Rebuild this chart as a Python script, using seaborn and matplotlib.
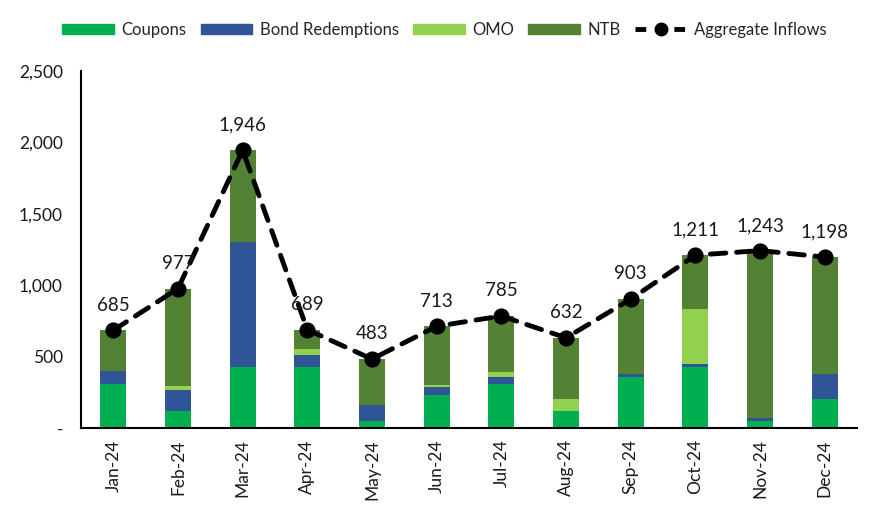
import numpy as np
import pandas as pd
import matplotlib
matplotlib.use('Agg')
import matplotlib.pyplot as plt
import seaborn as sns
from matplotlib.patches import Patch
from matplotlib.lines import Line2D
from matplotlib.ticker import FuncFormatter, FixedLocator

months = ['Jan-24', 'Feb-24', 'Mar-24', 'Apr-24', 'May-24', 'Jun-24',
          'Jul-24', 'Aug-24', 'Sep-24', 'Oct-24', 'Nov-24', 'Dec-24']
coupons = [310, 120, 427, 427, 49, 231, 308, 119, 357, 429, 51, 203]
bond_redemptions = [90, 146, 875, 84, 112, 56, 49, 0, 21, 21, 19, 177]
omo = [0, 28, 0, 42, 0, 14, 35, 84, 0, 383, 0, 0]
ntb = [285, 683, 644, 136, 322, 412, 393, 429, 525, 378, 1153, 818]
aggregate = [685, 977, 1946, 689, 483, 713, 785, 632, 903, 1211, 1243, 1198]

COLORS = {'Coupons': '#00B050',
          'Bond Redemptions': '#2F5597',
          'OMO': '#92D050',
          'NTB': '#548235'}

sns.set_theme(style='white')
plt.rcParams['font.family'] = ['Lato', 'DejaVu Sans']

df = pd.DataFrame({'month': months, 'Coupons': coupons,
                   'Bond Redemptions': bond_redemptions, 'OMO': omo, 'NTB': ntb})
# cumulative heights, drawn from the top layer down so they look stacked
df['c1'] = df['Coupons']
df['c2'] = df['c1'] + df['Bond Redemptions']
df['c3'] = df['c2'] + df['OMO']
df['c4'] = df['c3'] + df['NTB']

fig, ax = plt.subplots(figsize=(8.8, 5.12), dpi=100)
fig.subplots_adjust(left=0.092, right=0.974, bottom=0.164, top=0.861)

for col, name in [('c4', 'NTB'), ('c3', 'OMO'), ('c2', 'Bond Redemptions'), ('c1', 'Coupons')]:
    sns.barplot(data=df, x='month', y=col, color=COLORS[name], width=0.4,
                saturation=1, ax=ax, linewidth=0, order=months)

sns.pointplot(x=months, y=aggregate, color='black', markers='o', linestyles='--',
              markersize=9, linewidth=3.5, ax=ax, order=months)
for ln in ax.lines:
    ln.set_dashes([3.2, 2.2])
    ln.set_dash_capstyle('round')

# data labels
for i, v in enumerate(aggregate):
    ax.annotate(f'{v:,}', (i, v), xytext=(0, 12), textcoords='offset points',
                ha='center', va='bottom', fontsize=13.5, color='#1a1a1a')

ax.set_xlim(-0.5, 11.5)
ax.set_ylim(0, 2500)
ax.set_yticks(range(0, 2501, 500))
ax.yaxis.set_major_formatter(FuncFormatter(lambda v, p: '-' if v == 0 else f'{int(v):,}'))
ax.set_xlabel('')
ax.set_ylabel('')
ax.tick_params(axis='x', which='major', length=0, labelrotation=90, labelsize=12.5, pad=8)
ax.xaxis.set_minor_locator(FixedLocator(np.arange(-0.5, 12, 1)))
ax.tick_params(axis='x', which='minor', length=5, width=1.5, direction='out', color='black')
ax.tick_params(axis='y', length=5, width=1.5, direction='out', color='black',
               labelsize=12.5, pad=8)
ax.tick_params(axis='both', labelcolor='#1a1a1a')
for s in ['top', 'right']:
    ax.spines[s].set_visible(False)
for s in ['left', 'bottom']:
    ax.spines[s].set_color('black')
    ax.spines[s].set_linewidth(1.5)

handles = [Patch(color=COLORS[n], label=n) for n in COLORS]
agg_handle = Line2D([], [], color='black', linestyle='--', linewidth=3.5,
                    marker='o', markersize=9, label='Aggregate Inflows')
agg_handle.set_dashes([2.2, 1.8])
handles.append(agg_handle)
fig.legend(handles=handles, loc='center', bbox_to_anchor=(0.505, 0.942), ncol=5,
           frameon=False, fontsize=12, handlelength=3.1, handleheight=0.6,
           columnspacing=0.85, handletextpad=0.45)

fig.savefig('out.png', dpi=100)
